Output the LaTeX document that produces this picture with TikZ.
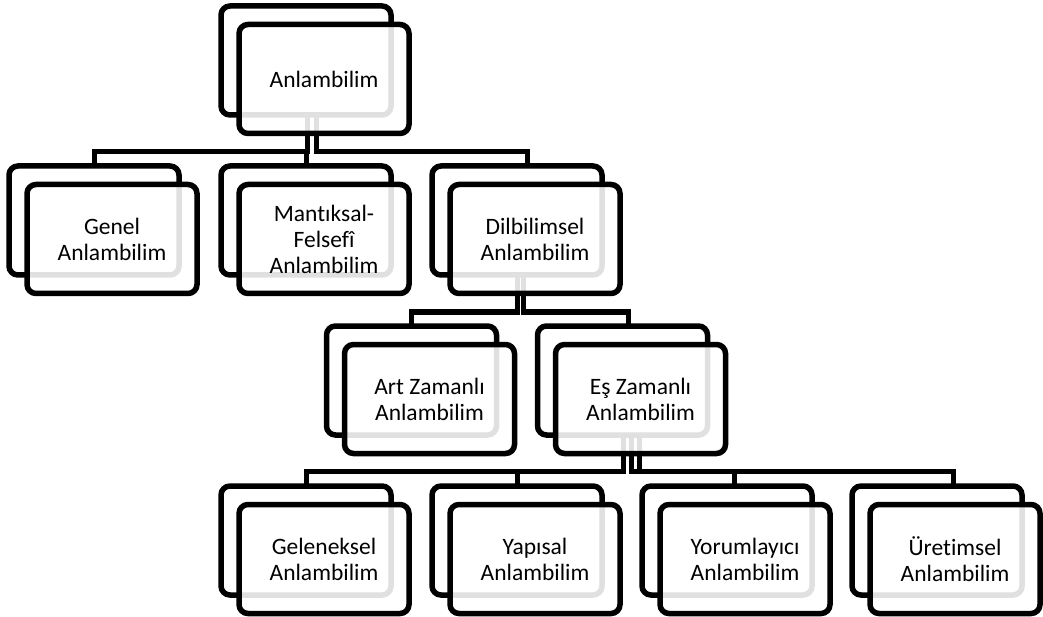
\documentclass[tikz,border=0pt]{standalone}
\usepackage{fontspec}
\setmainfont{Carlito}[Ligatures={TeX,NoCommon}]
\begin{document}
\begin{tikzpicture}[x=1pt,y=-1pt,
  cardbase/.style={rectangle, rounded corners=9pt, line width=5.5pt,
    minimum width=170pt, minimum height=109pt, outer sep=0pt, inner sep=0pt,
    anchor=north west},
  backcard/.style={cardbase, draw=black, fill=white},
  frontcard/.style={cardbase, draw=black, fill=white, fill opacity=0.88,
    draw opacity=1, text opacity=1, align=center,
    font=\fontsize{23.5}{26}\selectfont},
  conn/.style={draw=black, line width=5pt}]
\useasboundingbox (0,0) rectangle (1043,617);

% back cards
\node[backcard] (b-root) at (221,6) {};
\node[backcard] (b-gen) at (9,166) {};
\node[backcard] (b-man) at (221,166) {};
\node[backcard] (b-dil) at (432,166) {};
\node[backcard] (b-art) at (326.5,326) {};
\node[backcard] (b-es) at (537.5,326) {};
\node[backcard] (b-gel) at (221,486) {};
\node[backcard] (b-yap) at (432,486) {};
\node[backcard] (b-yor) at (642,486) {};
\node[backcard] (b-ure) at (852,486) {};

% connectors
\draw[conn] ([xshift=1pt]b-root.south) |- ([yshift=14pt]b-gen.north) -- (b-gen.north);
\draw[conn] ([xshift=1pt]b-root.south) |- ([yshift=14pt]b-man.north) -- (b-man.north);
\draw[conn] ([xshift=10pt]b-root.south) |- ([xshift=10pt,yshift=14pt]b-dil.north) -- ([xshift=10pt]b-dil.north);

\draw[conn] (b-dil.south) |- ([yshift=14pt]b-art.north) -- (b-art.north);
\draw[conn] ([xshift=6pt]b-dil.south) |- ([xshift=6pt,yshift=14pt]b-es.north) -- ([xshift=6pt]b-es.north);

\draw[conn] ([xshift=0.5pt]b-es.south) |- ([yshift=15pt]b-gel.north) -- (b-gel.north);
\draw[conn] ([xshift=0.5pt]b-es.south) |- ([yshift=15pt]b-yap.north) -- (b-yap.north);
\draw[conn] ([xshift=9pt]b-es.south) |- ([xshift=7pt,yshift=15pt]b-yor.north) -- ([xshift=7pt]b-yor.north);
\draw[conn] ([xshift=16.5pt]b-es.south) |- ([xshift=16pt,yshift=15pt]b-ure.north) -- ([xshift=16pt]b-ure.north);

% front cards
\node[frontcard] (root) at ([shift={(18,18.5)}]b-root.north west) {Anlambilim};
\node[frontcard] (gen) at ([shift={(18,18.5)}]b-gen.north west) {Genel\\Anlambilim};
\node[frontcard] (man) at ([shift={(18,18.5)}]b-man.north west) {Mantıksal-\\Felsefî\\Anlambilim};
\node[frontcard] (dil) at ([shift={(18,18.5)}]b-dil.north west) {Dilbilimsel\\Anlambilim};
\node[frontcard] (art) at ([shift={(18,18.5)}]b-art.north west) {Art Zamanlı\\Anlambilim};
\node[frontcard] (es) at ([shift={(18,18.5)}]b-es.north west) {Eş Zamanlı\\Anlambilim};
\node[frontcard] (gel) at ([shift={(18,18.5)}]b-gel.north west) {Geleneksel\\Anlambilim};
\node[frontcard] (yap) at ([shift={(18,18.5)}]b-yap.north west) {Yapısal\\Anlambilim};
\node[frontcard] (yor) at ([shift={(18,18.5)}]b-yor.north west) {Yorumlayıcı\\Anlambilim};
\node[frontcard] (ure) at ([shift={(18,18.5)}]b-ure.north west) {Üretimsel\\Anlambilim};
\end{tikzpicture}
\end{document}
